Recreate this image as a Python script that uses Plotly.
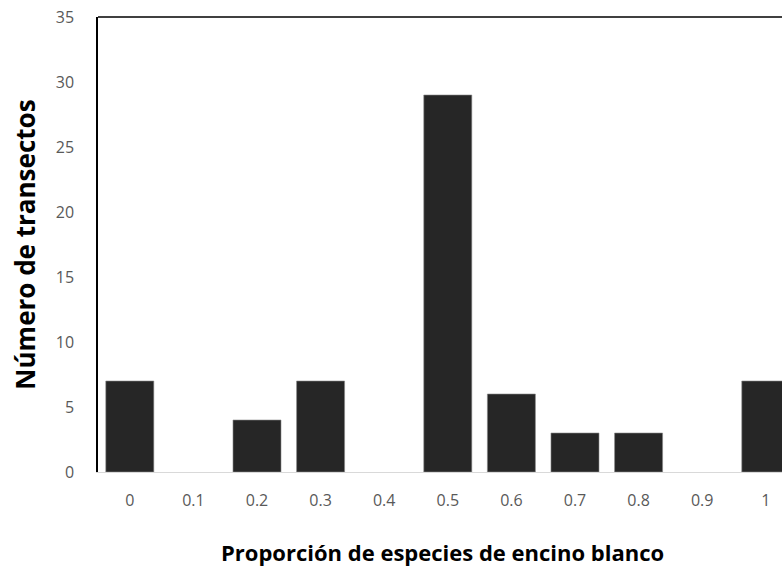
import plotly.graph_objects as go

categories = ["0", "0.1", "0.2", "0.3", "0.4", "0.5", "0.6", "0.7", "0.8", "0.9", "1"]
counts = [7, 0, 4, 7, 0, 29, 6, 3, 3, 0, 7]
y_ticks = [0, 5, 10, 15, 20, 25, 30, 35]

fig = go.Figure(go.Bar(
    x=categories, y=counts,
    marker=dict(color="#262626",
                line=dict(color="#8a8a8a", width=[0.6 if c > 0 else 0 for c in counts])),
))

fig.update_layout(
    width=782, height=575,
    margin=dict(l=98, r=0, t=17, b=103),
    plot_bgcolor="white", paper_bgcolor="white",
    bargap=0.245,
    showlegend=False,
    font=dict(family="Open Sans, Liberation Sans, sans-serif", color="#595959", size=16),
    xaxis=dict(
        type="category", range=[-0.5, 10.255],
        showline=True, linecolor="#d9d9d9", linewidth=1,
        showgrid=False, ticks="", ticklabelstandoff=14,
        tickfont=dict(size=16, color="#595959"),
    ),
    yaxis=dict(
        range=[0, 35], tickvals=y_ticks,
        showline=True, linecolor="black", linewidth=1.5,
        showgrid=False, zeroline=False, ticks="", ticklabelstandoff=19,
        tickfont=dict(size=16, color="#595959"),
    ),
    shapes=[dict(type="line", xref="paper", yref="paper", x0=0, x1=1, y0=1, y1=1,
                 line=dict(color="black", width=1.5))],
    annotations=[
        dict(text="<b>Número de transectos</b>", xref="paper", yref="paper",
             x=-0.108, y=0.5, xanchor="center", yanchor="middle", textangle=-90,
             showarrow=False, font=dict(size=26, color="black")),
        dict(text="<b>Proporción de especies de encino blanco</b>", xref="paper", yref="paper",
             x=0.504, y=-0.176, xanchor="center", yanchor="middle",
             showarrow=False, font=dict(size=22, color="black")),
    ],
)

fig.write_html("out.html", config={"displayModeBar": False},
               post_script="document.body.style.margin='0';")
